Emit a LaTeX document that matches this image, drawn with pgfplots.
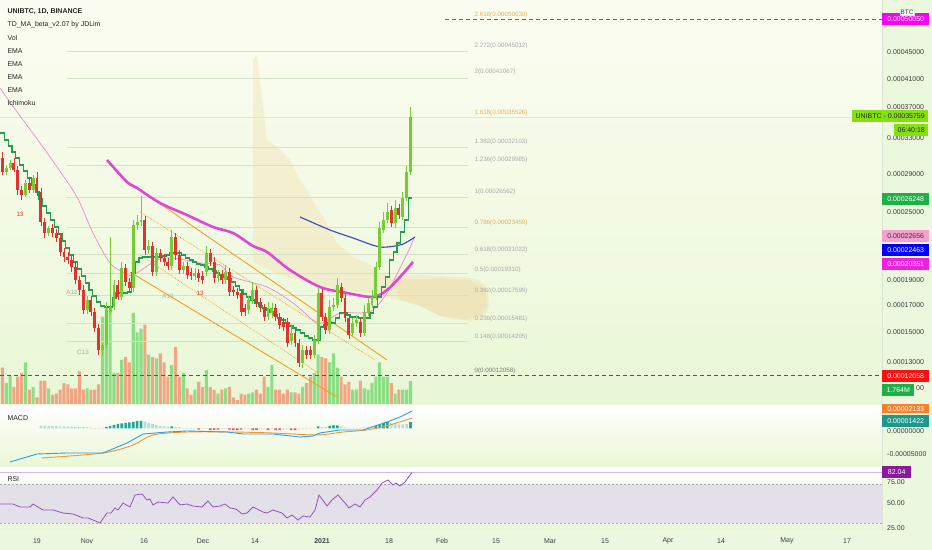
\documentclass[border=0pt]{standalone}
\usepackage{pgfplots}
\pgfplotsset{compat=1.18}
\usepackage{pgfplotstable}
\usepackage{fontspec}
\setmainfont{Liberation Sans}

\definecolor{bgA}{RGB}{252,253,242}
\definecolor{bgB}{RGB}{233,247,214}
\definecolor{bgC}{RGB}{236,248,222}
\definecolor{cg}{RGB}{118,204,52}
\definecolor{cr}{RGB}{226,50,46}
\definecolor{vg}{RGB}{140,222,132}
\definecolor{vr}{RGB}{240,166,132}
\definecolor{tickc}{RGB}{60,60,60}
\definecolor{fibgray}{RGB}{170,170,170}
\definecolor{fiborange}{RGB}{240,172,80}
\definecolor{fibline}{RGB}{214,224,200}
\definecolor{fibyel}{RGB}{228,238,160}
\definecolor{cloud}{RGB}{244,222,172}
\definecolor{cloudB}{RGB}{238,214,160}
\definecolor{emamag}{RGB}{226,70,214}
\definecolor{emablue}{RGB}{55,68,192}
\definecolor{emapink}{RGB}{240,135,210}
\definecolor{tdgreen}{RGB}{34,158,80}
\definecolor{chan}{RGB}{245,158,35}
\definecolor{macdb}{RGB}{40,160,235}
\definecolor{macdo}{RGB}{245,150,40}
\definecolor{hdt}{RGB}{38,166,154}
\definecolor{hlt}{RGB}{178,223,219}
\definecolor{hdr}{RGB}{239,83,80}
\definecolor{hlr}{RGB}{255,205,210}
\definecolor{rsip}{RGB}{150,80,190}
\definecolor{rsiband}{RGB}{228,224,234}
\definecolor{sep}{RGB}{220,228,210}
\definecolor{boxmag}{RGB}{250,0,250}
\definecolor{boxlime}{RGB}{134,224,16}
\definecolor{boxgreen}{RGB}{30,176,68}
\definecolor{boxpink}{RGB}{246,160,208}
\definecolor{boxblue}{RGB}{0,0,250}
\definecolor{boxmag2}{RGB}{240,32,224}
\definecolor{boxred}{RGB}{255,16,16}
\definecolor{boxorange}{RGB}{255,127,39}
\definecolor{boxteal}{RGB}{26,154,138}
\definecolor{boxpurple}{RGB}{138,26,154}

\newcommand\fs{\fontsize{7}{8.4}\selectfont}
\newcommand\fss{\fontsize{6.3}{7.5}\selectfont}

% green (rising) candles: pixel-scale price levels, volume in M
\pgfplotstableread{
d o h l c v
-8 172 165 175 168 1.6
-7 168 160 170 163 2.2
-3 195 180 197 183 3.2
-1 190 175 193 178 1.3
3 233 226 236 228 1.2
13 310 296 314 300 1.2
17 350 343 356 345 6.7
18 345 302 348 310 7.5
19 312 237 315 307 7.2
20 307 280 310 285 2.4
22 297 262 300 268 3.4
25 288 220 292 225 7.0
26 225 215 230 222 5.5
27 222 196 226 220 5.8
29 250 240 254 246 3.8
31 272 248 276 253 3.5
35 266 230 270 237 3.0
38 270 262 274 266 2.4
41 276 268 280 273 1.1
44 272 246 276 253 2.6
47 278 270 282 275 0.8
49 280 265 284 272 1.2
55 310 296 314 300 0.8
56 300 282 304 290 0.9
60 317 302 320 308 1.3
61 313 303 318 308 3.0
66 341 326 345 333 0.9
69 363 345 368 350 1.3
72 355 335 358 340 2.4
73 340 287 344 293 3.8
76 330 300 334 307 3.2
77 307 298 311 305 3.9
78 305 278 308 285 2.8
82 333 318 336 323 1.1
83 323 315 327 320 1.1
85 333 305 336 312 1.2
86 313 298 316 303 1.1
87 305 290 308 297 1.6
88 297 262 300 267 2.1
89 267 222 270 228 3.2
90 230 212 233 220 2.1
91 220 203 223 212 2.1
93 223 200 228 208 0.8
95 217 192 220 198 1.1
96 198 166 201 172 1.1
97 172 107 175 117 1.764
}\gtab

% red (falling) candles
\pgfplotstableread{
d o h l c v
-9 158 152 175 172 2.8
-6 163 158 172 170 1.3
-5 170 166 195 190 2.1
-4 190 186 200 195 2.4
-2 183 178 193 190 1.1
0 178 172 196 192 0.5
1 192 188 226 222 1.8
2 222 218 238 233 1.8
4 228 224 237 233 0.7
5 233 229 242 238 0.8
6 238 234 256 252 1.1
7 252 248 262 257 1.6
8 257 252 264 260 1.5
9 260 256 272 267 1.2
10 267 262 284 280 1.2
11 280 276 295 290 2.5
12 290 285 314 310 1.1
14 300 296 316 312 1.1
15 312 308 332 328 1.1
16 328 324 355 350 1.5
21 285 280 300 297 2.4
23 268 264 286 282 3.6
24 282 278 292 288 3.2
28 220 216 255 250 6.1
30 246 242 276 272 3.6
32 253 249 262 258 3.9
33 258 254 266 262 3.2
34 262 258 270 266 2.1
36 237 233 260 255 4.4
37 255 250 274 270 2.1
39 266 262 279 275 1.2
40 272 268 280 276 0.7
42 273 269 282 278 1.7
43 276 271 284 280 1.3
45 253 249 266 262 1.3
46 262 257 283 278 1.1
48 275 270 284 280 1.1
50 272 268 296 292 1.3
51 290 286 296 292 0.5
52 292 288 299 295 0.3
53 293 289 316 312 0.8
54 308 304 316 312 0.7
57 290 286 307 303 1.1
58 302 298 312 308 0.8
59 308 304 321 317 2.1
62 308 304 321 317 1.1
63 317 313 329 325 1.1
64 322 318 331 327 0.8
65 322 318 347 343 1.1
67 333 329 347 343 0.9
68 343 339 367 363 0.8
70 350 346 359 355 1.6
71 350 346 359 355 2.1
74 293 289 321 317 3.6
75 317 313 334 330 3.5
79 287 283 302 298 2.1
80 298 294 322 318 1.5
81 318 314 339 335 1.7
84 322 318 337 333 1.8
92 210 206 227 223 1.6
94 208 204 219 215 1.1
}\rtab

% TD step line
\pgfplotstableread{
d y
-9 133
-8 140
-7 146
-6 152
-5 158
-4 165
-3 171
-2 178
-1 185
0 192
1 199
2 206
3 213
4 220
5 227
6 234
7 241
8 248
9 255
10 262
11 269
12 276
13 283
14 290
15 296
16 302
17 306
18 307
19 307
20 298
21 293
22 293
23 293
24 292
25 273
26 262
27 258
28 257
29 257
30 257
31 257
32 257
33 256
34 255
35 253
36 253
37 253
38 255
39 258
40 260
41 262
42 264
43 265
44 267
45 269
46 271
47 273
48 275
49 277
50 279
51 282
52 286
53 290
54 294
55 297
56 300
57 303
58 306
59 308
60 310
61 312
62 315
63 318
64 320
65 323
66 326
67 328
68 330
69 333
70 336
71 338
72 340
73 340
74 327
75 325
76 323
77 323
78 318
79 313
80 313
81 315
82 317
83 317
84 318
85 318
86 318
87 313
88 307
89 297
90 287
91 277
92 260
93 252
94 243
95 232
96 220
97 198
98 198
}\tdtab

% MACD histogram (units of 1e-5)
\pgfplotstableread{
d v
18 0.3
19 0.5
20 0.7
21 0.9
22 1.0
23 1.1
24 1.2
25 1.3
26 1.5
27 1.5
35 0.4
73 0.4
76 0.5
77 0.6
78 0.6
88 0.5
89 0.8
90 1.1
91 1.3
97 1.3
}\hdark
\pgfplotstableread{
d v
1 0.5
2 0.5
3 0.5
4 0.45
5 0.45
6 0.4
7 0.4
8 0.35
9 0.35
10 0.3
11 0.3
12 0.25
13 0.2
14 0.15
28 1.3
29 1.1
30 0.9
31 0.7
32 0.5
33 0.4
34 0.3
36 0.3
37 0.2
38 0.1
39 0.05
40 0.05
41 0.05
74 0.3
75 0.3
79 0.4
80 0.2
81 0.1
82 0.1
83 0.1
84 0.1
85 0.2
86 0.3
87 0.4
92 1.0
93 0.9
94 0.8
95 0.8
96 0.9
}\hlight
\pgfplotstableread{
d v
42 -0.2
45 -0.3
46 -0.25
47 -0.2
50 -0.2
51 -0.3
52 -0.3
53 -0.2
56 -0.3
57 -0.25
60 -0.3
62 -0.3
63 -0.25
66 -0.3
67 -0.3
}\hred
\pgfplotstableread{
d v
15 -0.1
16 -0.1
17 -0.1
43 -0.1
44 -0.1
48 -0.1
49 -0.1
54 -0.15
55 -0.1
58 -0.15
59 -0.1
61 -0.15
64 -0.15
65 -0.1
68 -0.15
69 -0.1
70 -0.1
71 -0.1
72 -0.05
}\hpink

\begin{document}
\begin{tikzpicture}[x=1bp,y=1bp]
\fill[bgC] (0,0) rectangle (932,550);

\pgfplotsset{
  panel/.style={scale only axis, width=882bp, xmin=0, xmax=882,
    axis line style={draw=none}, major tick length=0pt, tick style={draw=none},
    xtick=\empty, clip=false,
    tick label style={font=\fs, text=tickc},
    yticklabel pos=right,
    yticklabel style={anchor=west, inner sep=0pt, xshift=5bp}},
  candle/.style n args={2}{draw=none, no markers, error bars/.cd, y dir=both, y explicit,
    error mark=none, error bar style={draw=#1, line width=#2}},
}

% ---------- Volume (background layer) ----------
\begin{axis}[panel, at={(0bp,146bp)}, anchor=south west, height=404bp,
  ymin=0, ymax=31.08, ytick=\empty,
  axis background/.style={shade, top color=bgA, bottom color=bgB}]
\addplot[ybar, bar width=3.1bp, bar shift=0pt, fill=vg, draw=none]
  table[x expr={37+3.85*\thisrow{d}}, y=v]{\gtab};
\addplot[ybar, bar width=3.1bp, bar shift=0pt, fill=vr, draw=none]
  table[x expr={37+3.85*\thisrow{d}}, y=v]{\rtab};
\end{axis}

% ---------- Price panel ----------
\begin{axis}[panel, at={(0bp,146bp)}, anchor=south west, height=404bp,
  ymin=0, ymax=404, y dir=reverse,
  ytick={52,79,107,138,174,212,280,305,332,362},
  yticklabels={0.00045000,0.00041000,0.00037000,0.00033000,0.00029000,0.00025000,0.00019000,0.00017000,0.00015000,0.00013000}]
% Ichimoku cloud
\addplot[fill=cloud, draw=none, fill opacity=0.38] coordinates {
 (253,262) (253,60) (257,55) (262,97) (267,140) (277,147) (290,160) (300,180)
 (313,200) (323,217) (337,243) (353,257) (367,263) (380,273) (393,277) (413,275)
 (440,276) (463,277) (480,280) (488,290) (489,305) (484,318) (470,321) (445,318)
 (420,306) (400,300) (380,296) (360,292) (340,290) (320,285) (300,280) (280,275) (265,268)} -- cycle;
\addplot[fill=cloudB, draw=none, fill opacity=0.35] coordinates {
 (393,280) (440,278) (470,280) (486,290) (487,305) (482,316) (465,319) (440,316)
 (420,306) (400,300)} -- cycle;
% Fibonacci levels
\addplot[fibyel, line width=0.7bp] coordinates {(0,117) (882,117)};
\foreach \yy in {51,78,147,165,197,227,254,273,295,323,341} {
  \edef\tmp{\noexpand\addplot[fibline, line width=0.6bp] coordinates {(67,\yy) (468,\yy)};}\tmp
}
\addplot[boxred, dash pattern=on 4bp off 3bp, line width=0.9bp] coordinates {(0,375) (882,375)};
\addplot[boxmag, dash pattern=on 4bp off 3bp, line width=0.9bp] coordinates {(445,19) (882,19)};
\node[anchor=west, font=\fss, text=fiborange] at (axis cs:471,15) {2.618(0.00050030)};
\node[anchor=west, font=\fss, text=fibgray] at (axis cs:471,46) {2.272(0.00045012)};
\node[anchor=west, font=\fss, text=fibgray] at (axis cs:471,72) {2(0.00041067)};
\node[anchor=west, font=\fss, text=fiborange] at (axis cs:471,113) {1.618(0.00035526)};
\node[anchor=west, font=\fss, text=fibgray] at (axis cs:471,142) {1.382(0.00032103)};
\node[anchor=west, font=\fss, text=fibgray] at (axis cs:471,160) {1.236(0.00029985)};
\node[anchor=west, font=\fss, text=fibgray] at (axis cs:471,192) {1(0.00026562)};
\node[anchor=west, font=\fss, text=fiborange] at (axis cs:471,223) {0.786(0.00023459)};
\node[anchor=west, font=\fss, text=fibgray] at (axis cs:471,250) {0.618(0.00021022)};
\node[anchor=west, font=\fss, text=fibgray] at (axis cs:471,270) {0.5(0.00019310)};
\node[anchor=west, font=\fss, text=fibgray] at (axis cs:471,291) {0.382(0.00017599)};
\node[anchor=west, font=\fss, text=fibgray] at (axis cs:471,319) {0.236(0.00015481)};
\node[anchor=west, font=\fss, text=fibgray] at (axis cs:471,337) {0.148(0.00014205)};
\node[anchor=west, font=\fss, text=tickc!70] at (axis cs:471,371) {0(0.00012058)};
% channel
\addplot[chan, line width=0.9bp] coordinates {(130,183) (387,360)};
\addplot[chan, line width=0.9bp] coordinates {(130,272) (337,397)};
\addplot[chan, line width=0.7bp, densely dotted] coordinates {(140,212) (375,360)};
\addplot[chan, line width=0.7bp, densely dotted] coordinates {(140,255) (318,373)};
% EMAs
\addplot[emapink, line width=0.7bp, smooth] coordinates {
 (0,88) (12,105) (40,143) (57,167) (77,197) (93,233) (110,263) (123,272) (133,275)
 (157,260) (173,258) (200,263) (220,265) (233,277) (267,287) (293,303) (313,320)
 (323,323) (340,313) (360,313) (373,310) (387,293) (400,268) (408,252) (414,238)};
\addplot[emablue, line width=1.1bp, smooth] coordinates {
 (300,217) (330,230) (353,238) (380,247) (400,245) (407,242) (415,237)};
\addplot[emamag, line width=2.6bp, smooth] coordinates {
 (107,160) (127,182) (137,188) (160,203) (187,215) (213,227) (233,233) (253,246)
 (267,252) (290,270) (320,287) (347,293) (373,297) (387,290) (400,277) (413,262)};
% TD step line
\addplot[tdgreen, line width=1.15bp, const plot] table[x expr={35.1+3.85*\thisrow{d}}, y=y]{\tdtab};
% candles: wicks
\addplot[candle={cg}{0.6bp}]
  table[x expr={37+3.85*\thisrow{d}}, y expr={(\thisrow{h}+\thisrow{l})/2}, y error expr={(\thisrow{l}-\thisrow{h})/2}]{\gtab};
\addplot[candle={cr}{0.6bp}]
  table[x expr={37+3.85*\thisrow{d}}, y expr={(\thisrow{h}+\thisrow{l})/2}, y error expr={(\thisrow{l}-\thisrow{h})/2}]{\rtab};
% candles: bodies
\addplot[candle={cg}{2.9bp}]
  table[x expr={37+3.85*\thisrow{d}}, y expr={(\thisrow{o}+\thisrow{c})/2}, y error expr={max(abs(\thisrow{o}-\thisrow{c})/2,0.6)}]{\gtab};
\addplot[candle={cr}{2.9bp}]
  table[x expr={37+3.85*\thisrow{d}}, y expr={(\thisrow{o}+\thisrow{c})/2}, y error expr={max(abs(\thisrow{o}-\thisrow{c})/2,0.6)}]{\rtab};
% annotations
\node[font=\fss, text=cr] at (axis cs:20,214) {13};
\node[font=\fss, text=cr] at (axis cs:200,293) {13};
\node[font=\fss, text=fibgray] at (axis cs:83,352) {C13};
\node[font=\fss, text=fibgray] at (axis cs:72,292) {A13};
\node[font=\fss, text=fibgray] at (axis cs:168,296) {A13};
\end{axis}

% ---------- MACD panel ----------
\begin{axis}[panel, at={(0bp,84bp)}, anchor=south west, height=60bp,
  ymin=-7.35, ymax=4.41, ytick={-5}, yticklabels={-0.00005000},
  axis background/.style={shade, top color=white, bottom color=bgB}]
\addplot[ybar, bar width=2.6bp, bar shift=0pt, fill=hlt, draw=none] table[x expr={37+3.85*\thisrow{d}}, y=v]{\hlight};
\addplot[ybar, bar width=2.6bp, bar shift=0pt, fill=hdt, draw=none] table[x expr={37+3.85*\thisrow{d}}, y=v]{\hdark};
\addplot[ybar, bar width=2.6bp, bar shift=0pt, fill=hdr, draw=none] table[x expr={37+3.85*\thisrow{d}}, y=v]{\hred};
\addplot[ybar, bar width=2.6bp, bar shift=0pt, fill=hlr, draw=none] table[x expr={37+3.85*\thisrow{d}}, y=v]{\hpink};
\addplot[macdo, line width=0.9bp, smooth] coordinates {
 (42,-5.78) (103,-4.8) (133,-3.24) (153,-1.27) (187,-0.69) (233,-0.69) (273,-0.88)
 (317,-1.27) (343,-0.69) (367,-0.29) (390,0.69) (412,2.06)};
\addplot[macdb, line width=0.9bp] coordinates {
 (10,-6.57) (37,-5.0) (67,-4.8) (103,-4.8) (127,-2.84) (143,-1.08) (167,-0.69)
 (187,-0.49) (227,-0.69) (243,-1.08) (273,-1.08) (300,-1.67) (313,-1.47) (320,-0.88)
 (340,-0.29) (363,-0.29) (387,1.27) (400,2.25) (412,3.43)};
\end{axis}

% ---------- RSI panel ----------
\begin{axis}[panel, at={(0bp,20bp)}, anchor=south west, height=62bp,
  ymin=22.7, ymax=86.6, ytick={50,25}, yticklabels={50.00,25.00},
  xtick={37,87,144,203,255,322,389,442,496,550,605,668,721,787,847},
  xticklabels={19,Nov,16,Dec,14,\textbf{2021},18,Feb,15,Mar,15,Apr,14,May,17},
  xticklabel style={anchor=center, yshift=-11bp},
  axis background/.style={shade, top color=white, bottom color=bgB}]
\addplot[fill=rsiband, draw=none] coordinates {(0,30) (882,30) (882,70) (0,70)} -- cycle;
\addplot[fibgray, dash pattern=on 2bp off 2bp, line width=0.6bp] coordinates {(0,70) (882,70)};
\addplot[fibgray, dash pattern=on 2bp off 2bp, line width=0.6bp] coordinates {(0,30) (882,30)};
\addplot[rsip!40, line width=0.8bp] coordinates {(0,82.04) (882,82.04)};
\addplot[rsip, line width=0.8bp] coordinates {
 (0,49.5) (13,49.5) (20,46.4) (30,46.4) (33,49.5) (43,43.3) (53,43.3) (63,40.2) (73,39.2)
 (83,35.1) (88,35.1) (93,33.0) (100,29.9) (107,40.2) (111,40.2) (115,45.4) (118,43.3)
 (123,50.5) (130,46.4) (135,58.8) (142,59.8) (147,53.6) (150,54.6) (153,48.5) (158,51.5)
 (168,50.5) (173,56.7) (180,48.5) (187,49.5) (193,47.4) (202,46.4) (208,52.6) (213,46.4)
 (220,47.4) (225,49.5) (230,45.4) (236,44.3) (242,39.2) (247,40.2) (253,46.4) (263,41.2)
 (267,40.2) (273,43.3) (282,40.2) (287,35.1) (292,38.1) (298,33.0) (303,37.1) (310,36.1)
 (315,43.3) (319,58.8) (327,47.4) (332,53.6) (338,58.8) (345,50.5) (349,45.4) (355,49.5)
 (360,46.4) (365,53.6) (370,56.7) (377,63.9) (382,71.1) (388,74.2) (393,69.1) (396,71.1)
 (400,68.0) (405,72.2) (412,82.04)};
\end{axis}

% ---------- separators, labels and price tags ----------
\draw[sep, line width=0.6bp] (882,20) -- (882,550);
\tikzset{tag/.style={anchor=west, inner xsep=2bp, inner ysep=0pt, minimum height=12bp, font=\fs}}
% partly covered scale labels, as they show beside the tags
\node[anchor=west, font=\fs, text=tickc, inner sep=0pt] at (916,161.5) {00};
\node[anchor=north west, font=\fs, text=tickc, inner sep=0pt] at (887,121.5) {0.00000000};
\node[anchor=north west, font=\fs, text=tickc, inner sep=0pt] at (887,71) {75.00};
\node[tag, fill=boxmag, text=white, minimum width=47bp] at (882,531) {0.00050050};
\node[anchor=center, fill=white, draw=sep, font=\fss, inner sep=1bp, text=tickc] at (907,538) {BTC};
\node[tag, fill=boxlime, text=black!85, minimum width=76bp] at (852,434) {UNIBTC - 0.00035759};
\node[tag, fill=boxlime, text=black!85, minimum width=34bp] at (894,420) {06:40:18};
\node[tag, fill=boxgreen, text=white, minimum width=47bp] at (882,351) {0.00026248};
\node[tag, fill=boxpink, text=black!80, minimum width=47bp] at (882,314) {0.00022656};
\node[tag, fill=boxblue, text=white, minimum width=47bp] at (882,300) {0.00022463};
\node[tag, fill=boxmag2, text=white, minimum width=47bp] at (882,286) {0.00020351};
\node[tag, fill=boxred, text=white, minimum width=47bp] at (882,174) {0.00012058};
\node[tag, fill=boxgreen, text=white, minimum width=32bp] at (882,160) {1.764M};
\node[tag, fill=boxorange, text=white, minimum width=47bp, minimum height=9bp] at (882,141) {0.00002133};
\node[tag, fill=boxteal, text=white, minimum width=47bp] at (882,128.5) {0.00001422};
\node[tag, fill=boxpurple, text=white, minimum width=29bp] at (882,78) {82.04};

\node[anchor=west, font=\bfseries\fs, text=black!85] at (4,538) {UNIBTC, 1D, BINANCE};
\node[anchor=west, font=\fs, text=black!85] at (4,525) {TD\_MA\_beta\_v2.07 by JDLim};
\node[anchor=west, font=\fs, text=black!85] at (4,512) {Vol};
\node[anchor=west, font=\fs, text=black!85] at (4,499) {EMA};
\node[anchor=west, font=\fs, text=black!85] at (4,486) {EMA};
\node[anchor=west, font=\fs, text=black!85] at (4,473) {EMA};
\node[anchor=west, font=\fs, text=black!85] at (4,460) {EMA};
\node[anchor=west, font=\fs, text=black!85] at (4,447) {Ichimoku};
\node[anchor=west, font=\fs, text=black!85] at (4,132) {MACD};
\node[anchor=west, font=\fs, text=black!85] at (4,71) {RSI};

\pgfresetboundingbox
\path[use as bounding box] (0,0) rectangle (932,550);
\end{tikzpicture}
\end{document}
